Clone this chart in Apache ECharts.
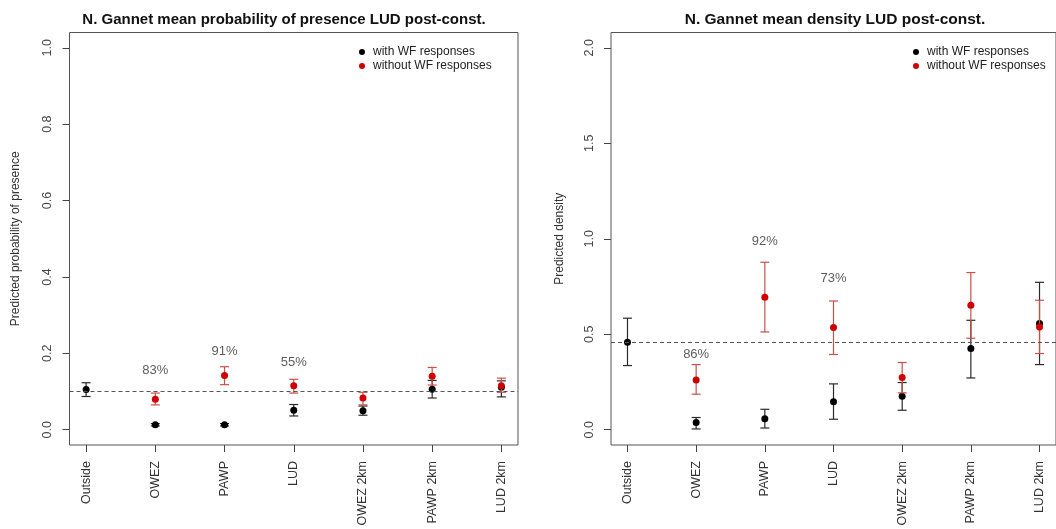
<!DOCTYPE html>
<html>
<head>
<meta charset="utf-8">
<script src="https://cdn.jsdelivr.net/npm/echarts@6/dist/echarts.min.js"></script>
<style>
html,body{margin:0;padding:0;background:#fff;overflow:hidden;}
#chart{width:1056px;height:529px;}
</style>
</head>
<body>
<div id="chart"></div>
<script>
// ---------- data ----------
const categories = ['Outside', 'OWEZ', 'PAWP', 'LUD', 'OWEZ 2km', 'PAWP 2km', 'LUD 2km'];

// probability of presence
const presWithMean = [0.105, 0.013, 0.013, 0.051, 0.050, 0.106, 0.111];
const presWithLo   = [0.087, 0.010, 0.010, 0.036, 0.038, 0.083, 0.086];
const presWithHi   = [0.123, 0.016, 0.016, 0.066, 0.062, 0.129, 0.128];
const presWithoutMean = [null, 0.080, 0.142, 0.115, 0.083, 0.140, 0.115];
const presWithoutLo   = [null, 0.065, 0.118, 0.096, 0.065, 0.117, 0.098];
const presWithoutHi   = [null, 0.096, 0.165, 0.132, 0.098, 0.163, 0.135];
const presPctText = ['', '83%', '91%', '55%', '', '', ''];
const presPctY    = [null, 0.155, 0.204, 0.175, null, null, null];

// density
const densWithMean = [0.458, 0.038, 0.057, 0.146, 0.175, 0.425, 0.556];
const densWithLo   = [0.336, 0.004, 0.009, 0.055, 0.102, 0.271, 0.341];
const densWithHi   = [0.584, 0.064, 0.107, 0.240, 0.247, 0.573, 0.772];
const densWithoutMean = [null, 0.261, 0.694, 0.535, 0.273, 0.652, 0.538];
const densWithoutLo   = [null, 0.186, 0.512, 0.394, 0.193, 0.479, 0.399];
const densWithoutHi   = [null, 0.341, 0.877, 0.674, 0.352, 0.823, 0.678];
const densPctText = ['', '86%', '92%', '73%', '', '', ''];
const densPctY    = [null, 0.392, 0.988, 0.790, null, null, null];

const presTicks = [0, 0.2, 0.4, 0.6, 0.8, 1.0];
const densTicks = [0, 0.5, 1.0, 1.5, 2.0];

const titles = ['N. Gannet mean probability of presence LUD post-const.', 'N. Gannet mean density LUD post-const.'];
const yNames = ['Predicted probability of presence', 'Predicted density'];
const legendNames = ['with WF responses', 'without WF responses'];

// ---------- styling ----------
const FONT = '"Liberation Sans", Arial, sans-serif';
const BLACK = '#000000';
const RED = '#d10000';
const BAR_BLACK = '#2a2a2a';
const BAR_RED = '#c9504a';
const BOX = '#555';
const TICK = '#444';
const xIdx = categories.map((c, i) => i + 1);

function pts(mean) {
  return mean.map((v, i) => v == null ? null : [xIdx[i], v]).filter(d => d);
}
function bars(lo, hi) {
  return lo.map((v, i) => v == null ? null : [xIdx[i], lo[i], hi[i]]).filter(d => d);
}
function errRender(color) {
  return function (params, api) {
    const x = api.value(0);
    const a = api.coord([x, api.value(1)]);
    const b = api.coord([x, api.value(2)]);
    const w = 4.5;
    const st = { stroke: color, lineWidth: 1.2 };
    return {
      type: 'group',
      children: [
        { type: 'line', shape: { x1: a[0], y1: a[1], x2: b[0], y2: b[1] }, style: st },
        { type: 'line', shape: { x1: a[0] - w, y1: a[1], x2: a[0] + w, y2: a[1] }, style: st },
        { type: 'line', shape: { x1: b[0] - w, y1: b[1], x2: b[0] + w, y2: b[1] }, style: st }
      ]
    };
  };
}

const grids = [
  { left: 69.5, top: 32.5, width: 448.5, height: 412.5 },
  { left: 611, top: 32.5, width: 447, height: 412.5 }
];
const yMin = [-0.04, -0.08];
const yMax = [1.04, 2.08];
const xMin = 0.76, xMax = 7.24;

function makeX(gi) {
  return {
    type: 'value', gridIndex: gi, min: xMin, max: xMax,
    axisLine: { show: false, onZero: false },
    splitLine: { show: false },
    axisTick: { show: true, inside: false, customValues: xIdx, length: 7, lineStyle: { color: TICK, width: 1 } },
    axisLabel: {
      customValues: xIdx, rotate: 90, margin: 16,
      formatter: v => categories[Math.round(v) - 1] || '',
      fontFamily: FONT, fontSize: 12.5, color: '#333'
    }
  };
}
function makeY(gi, ticks, name, gap) {
  return {
    type: 'value', gridIndex: gi, min: yMin[gi], max: yMax[gi],
    name: name, nameLocation: 'middle', nameGap: gap,
    nameTextStyle: { fontFamily: FONT, fontSize: 12, color: '#333' },
    axisLine: { show: false, onZero: false },
    splitLine: { show: false },
    axisTick: { show: true, inside: false, customValues: ticks, length: 7, lineStyle: { color: TICK, width: 1 } },
    axisLabel: {
      customValues: ticks, rotate: 90, margin: 15,
      formatter: v => v.toFixed(1),
      fontFamily: FONT, fontSize: 12.5, color: '#444'
    }
  };
}

function panelSeries(gi, wMean, wLo, wHi, woMean, woLo, woHi, pctText, pctY) {
  return [
    {
      type: 'custom', xAxisIndex: gi, yAxisIndex: gi, renderItem: errRender(BAR_BLACK),
      data: bars(wLo, wHi), z: 2, silent: true,
      markLine: {
        silent: true, symbol: 'none', label: { show: false },
        lineStyle: { color: '#555', type: [4, 3], width: 1.2 },
        data: [{ yAxis: wMean[0] }]
      }
    },
    {
      name: legendNames[0], type: 'scatter', xAxisIndex: gi, yAxisIndex: gi,
      symbol: 'circle', symbolSize: 7, itemStyle: { color: BLACK, opacity: 1 },
      data: pts(wMean), z: 3
    },
    {
      type: 'custom', xAxisIndex: gi, yAxisIndex: gi, renderItem: errRender(BAR_RED),
      data: bars(woLo, woHi), z: 4, silent: true
    },
    {
      name: legendNames[1], type: 'scatter', xAxisIndex: gi, yAxisIndex: gi,
      symbol: 'circle', symbolSize: 7, itemStyle: { color: RED, opacity: 1 },
      data: pts(woMean), z: 5
    },
    {
      type: 'scatter', xAxisIndex: gi, yAxisIndex: gi, symbolSize: 0, silent: true,
      data: pctY.map((v, i) => v == null ? null : { value: [xIdx[i], v], label: { formatter: pctText[i] } }).filter(d => d),
      label: {
        show: true, position: 'inside', fontFamily: FONT, fontSize: 13, color: '#333'
      },
      z: 6
    }
  ];
}

const legendBase = {
  orient: 'vertical', icon: 'circle', itemWidth: 6, itemHeight: 6, itemGap: 2,
  textStyle: { fontFamily: FONT, fontSize: 12, color: '#222', padding: [0, 0, 0, 3] },
  data: legendNames, selectedMode: false
};

const chart = echarts.init(document.getElementById('chart'), null, { renderer: 'canvas' });
chart.setOption({
  backgroundColor: '#fff',
  animation: false,
  grid: grids.map(g => Object.assign({ show: true, borderColor: BOX, borderWidth: 1, backgroundColor: 'transparent' }, g)),
  xAxis: [makeX(0), makeX(1)],
  yAxis: [
    makeY(0, presTicks, yNames[0], 48),
    makeY(1, densTicks, yNames[1], 45)
  ],
  legend: [
    Object.assign({ left: 354, top: 41 }, legendBase),
    Object.assign({ left: 908, top: 41 }, legendBase)
  ],
  graphic: [
    { type: 'text', x: 284, y: 20, style: { text: titles[0], font: 'bold 15px ' + FONT, fill: '#111', textAlign: 'center', textVerticalAlign: 'middle' } },
    { type: 'text', x: 835, y: 20, style: { text: titles[1], font: 'bold 15.5px ' + FONT, fill: '#111', textAlign: 'center', textVerticalAlign: 'middle' } }
  ],
  series: [
    ...panelSeries(0, presWithMean, presWithLo, presWithHi, presWithoutMean, presWithoutLo, presWithoutHi, presPctText, presPctY),
    ...panelSeries(1, densWithMean, densWithLo, densWithHi, densWithoutMean, densWithoutLo, densWithoutHi, densPctText, densPctY)
  ]
});
</script>
</body>
</html>
